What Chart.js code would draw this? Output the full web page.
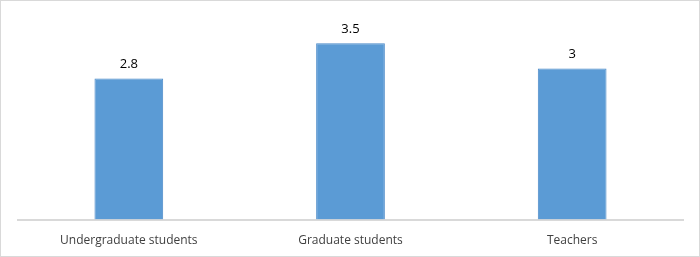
<!DOCTYPE html>
<html>
<head>
<meta charset="utf-8">
<script src="https://cdn.jsdelivr.net/npm/chart.js@4.4.0/dist/chart.umd.min.js"></script>
<style>
  body { margin: 0; background: #fff; }
  #wrap { position: relative; width: 698px; height: 255px; border: 1px solid #d9d9d9; }
</style>
</head>
<body>
<div id="wrap"><canvas id="grafica"></canvas></div>
<script>
var categorias = ["Undergraduate students", "Graduate students", "Teachers"];
var valores = [2.8, 3.5, 3];
var etiquetas = ["2.8", "3.5", "3"];

// etiquetas encima de cada barra
var etiquetasBarras = {
  id: "etiquetasBarras",
  afterDatasetsDraw: function (chart) {
    var ctx = chart.ctx;
    var meta = chart.getDatasetMeta(0);
    ctx.save();
    ctx.fillStyle = "#000";
    ctx.font = "13px 'Open Sans'";
    ctx.textAlign = "center";
    ctx.textBaseline = "middle";
    meta.data.forEach(function (bar, i) {
      ctx.fillText(etiquetas[i], bar.x, bar.y - 14);
    });
    ctx.restore();
  },
};

var ctx = document.getElementById("grafica").getContext("2d");
new Chart(ctx, {
  type: "bar",
  data: {
    labels: categorias,
    datasets: [
      {
        data: valores,
        backgroundColor: "#5b9bd5",
        borderColor: "#4a89c8",
        borderWidth: 1,
        barPercentage: 0.31,
        categoryPercentage: 1,
      },
    ],
  },
  options: {
    responsive: true,
    maintainAspectRatio: false,
    animation: false,
    layout: { padding: { left: 17, right: 16, top: 17, bottom: 2 } },
    plugins: { legend: { display: false }, tooltip: { enabled: false } },
    scales: {
      y: { display: false, min: 0, max: 4 },
      x: {
        grid: { display: false },
        border: { color: "#d9d9d9", width: 2 },
        ticks: {
          color: "#404040",
          font: { family: "'Open Sans'", size: 12 },
          padding: 6,
          maxRotation: 0,
        },
      },
    },
  },
  plugins: [etiquetasBarras],
});
</script>
</body>
</html>
